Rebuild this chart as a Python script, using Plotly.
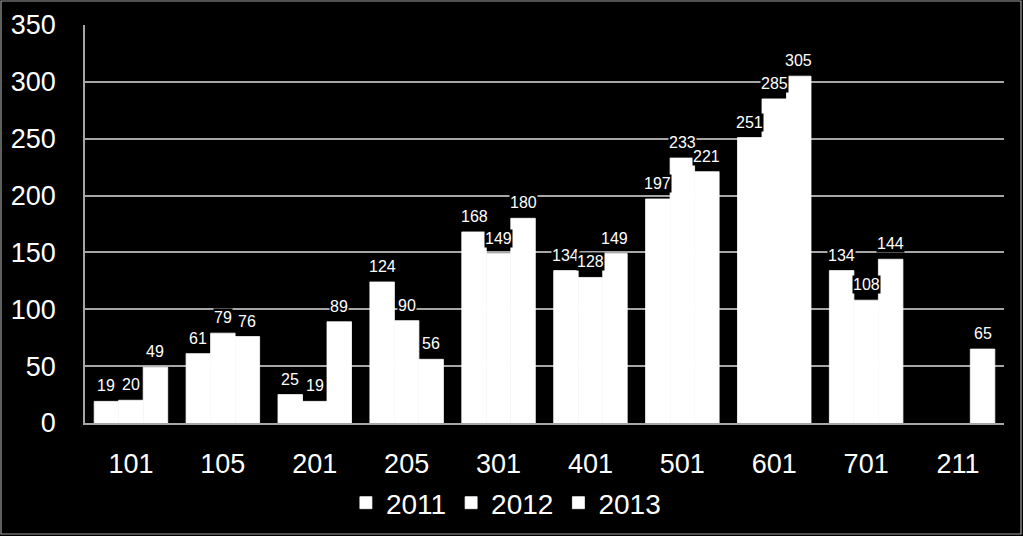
import plotly.graph_objects as go

categories = ["101", "105", "201", "205", "301", "401", "501", "601", "701", "211"]
years = ["2011", "2012", "2013"]
values_2011 = [19, 61, 25, 124, 168, 134, 197, 251, 134, None]
values_2012 = [20, 79, 19, 90, 149, 128, 233, 285, 108, None]
values_2013 = [49, 76, 89, 56, 180, 149, 221, 305, 144, 65]
y_ticks = [0, 50, 100, 150, 200, 250, 300, 350]

W, H = 1023, 536
ML, MR, MT, MB = 85, 19, 25, 113
PW = W - ML - MR
PH = H - MT - MB

series = [values_2011, values_2012, values_2013]
font = "Liberation Sans, Arial, sans-serif"

fig = go.Figure()
for name, vals in zip(years, series):
    fig.add_trace(go.Bar(
        x=categories, y=vals, name=name,
        marker=dict(color="white", line=dict(width=0.8, color="white")),
    ))

# value labels with black box, like the original
# (category index for x, since the names look like numbers)
bar_w = PW / len(categories) * 0.8 / 3
annotations = []
for i, vals in enumerate(series):
    for j, v in enumerate(vals):
        if v is None:
            continue
        annotations.append(dict(
            x=j, y=v, xref="x", yref="y", text=str(v), showarrow=False,
            xshift=(i - 1) * bar_w, yanchor="bottom", yshift=6,
            font=dict(family=font, size=16, color="white"),
            bgcolor="black", borderpad=0,
        ))

fig.update_layout(
    width=W, height=H,
    margin=dict(l=ML, r=MR, t=MT, b=MB, autoexpand=False),
    paper_bgcolor="black", plot_bgcolor="black",
    barmode="group", bargap=0.2, bargroupgap=0,
    font=dict(family=font, color="white"),
    annotations=annotations,
    legend=dict(
        orientation="h", x=0.458, xanchor="center",
        yref="container", y=1 - 503 / H, yanchor="middle",
        font=dict(size=28, color="white"), itemwidth=30, traceorder="normal",
    ),
    xaxis=dict(
        type="category", categoryorder="array", categoryarray=categories,
        range=[-0.5, len(categories) - 0.5],
        showgrid=False, showline=True, linecolor="#a6a6a6", linewidth=1.5,
        ticks="", tickfont=dict(size=27, color="white"), ticklabelstandoff=16,
    ),
    yaxis=dict(
        range=[0, 350], tickvals=y_ticks, showgrid=True, gridcolor="#a6a6a6",
        gridwidth=1.5, showline=True, linecolor="#a6a6a6", linewidth=1.5,
        zeroline=False, ticks="", tickfont=dict(size=27, color="white"),
        ticklabelstandoff=22,
    ),
    # thin grey frame round the whole picture
    shapes=[dict(
        type="rect", xref="paper", yref="paper",
        x0=-(ML - 1) / PW, x1=1 + (MR - 2) / PW,
        y0=-(MB - 2) / PH, y1=1 + (MT - 1) / PH,
        line=dict(color="#a0a0a0", width=1.2), layer="above",
    )],
)

fig.write_html(
    "out.html",
    config={"displayModeBar": False},
    post_script="document.body.style.margin='0';",
)
